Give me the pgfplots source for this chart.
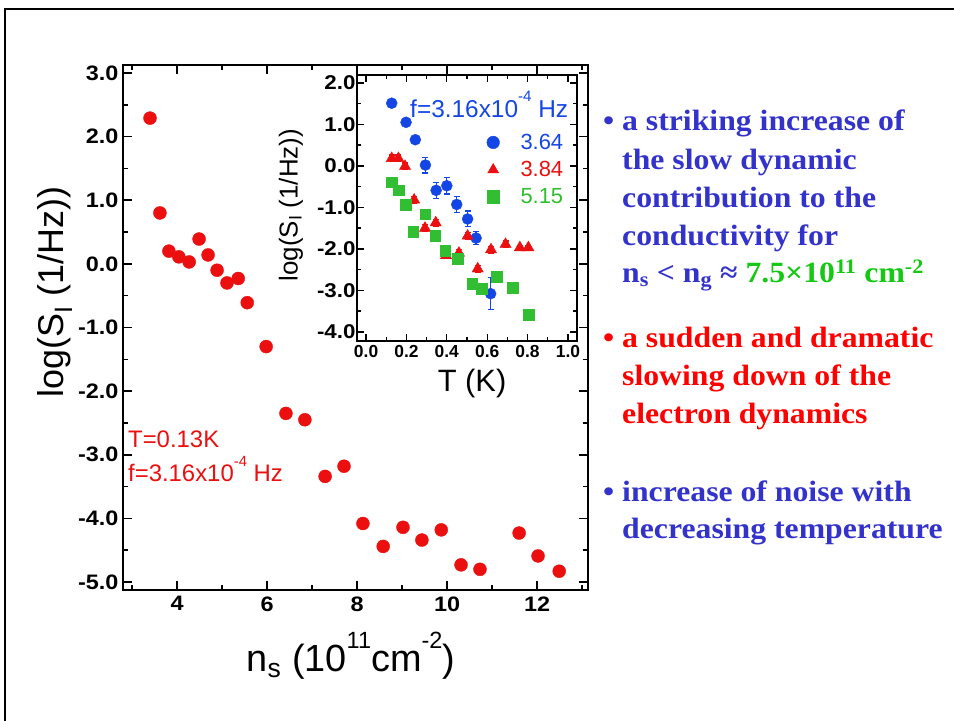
\documentclass[border=0pt]{standalone}
\usepackage{fontspec}
\setmainfont{Liberation Sans}
\newfontfamily\serifb[FakeStretch=1.08]{Liberation Serif}
\newfontfamily\tickf[FakeStretch=1.12]{Liberation Sans}
\usepackage{pgfplots}
\pgfplotsset{compat=1.18}
\definecolor{mred}{RGB}{235,15,15}
\definecolor{mblue}{RGB}{20,70,230}
\definecolor{mgreen}{RGB}{50,190,50}
\definecolor{tblue}{RGB}{51,51,204}
\definecolor{tred}{RGB}{255,0,0}
\definecolor{tgreen}{RGB}{20,200,20}
\newcommand{\fs}[1]{\fontsize{#1}{#1}\selectfont}
\newcommand{\sups}[1]{\raisebox{0.62em}{\fontsize{0.62em}{0.62em}\selectfont #1}}
\begin{document}
\begin{tikzpicture}[x=1bp,y=1bp]
\path[use as bounding box] (0,0) rectangle (954,721);
\draw[line width=2bp] (5,0) -- (5,712) -- (954,712);
% main axis
\begin{axis}[
  at={(123bp,131bp)}, anchor=south west,
  width=465bp, height=525bp, scale only axis,
  xmin=2.8, xmax=13.13, ymin=-5.125, ymax=3.125,
  xtick={4,6,8,10,12}, xticklabels={4,6,8,10,12},
  minor xtick={3,5,7,9,11,13},
  ytick={-5,-4,-3,-2,-1,0,1,2,3},
  yticklabels={-5.0,-4.0,-3.0,-2.0,-1.0,0.0,1.0,2.0,3.0},
  minor ytick={-4.5,-3.5,-2.5,-1.5,-0.5,0.5,1.5,2.5},
  tick align=inside, xtick pos=both, ytick pos=both,
  major tick length=9bp, minor tick length=5bp,
  axis line style={line width=1.8bp},
  every tick/.style={line width=1.5bp, black},
  xticklabel style={yshift=-3bp, font=\tickf\bfseries\fs{21}},
  yticklabel style={xshift=-1bp, font=\tickf\bfseries\fs{21}},
  xlabel={n\textsubscript{s} (10\sups{11}cm\sups{-2})},
  xlabel style={at={(rel axis cs:0.49,-0.156)}, anchor=base, font=\fs{38}},
  ylabel={log(S\textsubscript{I} (1/Hz))},
  ylabel style={at={(rel axis cs:-0.147,0.568)}, anchor=center, font=\fs{36}},
]
\addplot[only marks, mark=*, mark size=6.5bp, color=mred] coordinates {
(3.40,2.29) (3.62,0.80) (3.82,0.20) (4.04,0.11) (4.27,0.03) (4.49,0.39)
(4.69,0.14) (4.89,-0.10) (5.11,-0.30) (5.36,-0.23) (5.56,-0.61) (5.98,-1.30)
(6.42,-2.35) (6.84,-2.45) (7.29,-3.34) (7.71,-3.18) (8.13,-4.08) (8.58,-4.44)
(9.02,-4.14) (9.44,-4.34) (9.87,-4.18) (10.31,-4.73) (10.73,-4.80) (11.60,-4.23)
(12.02,-4.59) (12.49,-4.83)
};
\node[anchor=base west, text=mred, font=\fs{24}, inner sep=0pt] at (axis cs:2.91,-2.88) {T=0.13K};
\node[anchor=base west, text=mred, font=\fs{24}, inner sep=0pt] at (axis cs:2.91,-3.42) {f=3.16x10\sups{-4} Hz};
\end{axis}
% inset
\begin{axis}[
  at={(357bp,380bp)}, anchor=south west,
  width=220bp, height=266bp, scale only axis,
  axis background/.style={fill=white},
  xmin=-0.045, xmax=1.045, ymin=-4.22, ymax=2.19,
  xtick={0,0.2,0.4,0.6,0.8,1.0}, xticklabels={0.0,0.2,0.4,0.6,0.8,1.0},
  minor xtick={0.1,0.3,0.5,0.7,0.9},
  ytick={-4,-3,-2,-1,0,1,2},
  yticklabels={-4.0,-3.0,-2.0,-1.0,0.0,1.0,2.0},
  minor ytick={-3.5,-2.5,-1.5,-0.5,0.5,1.5},
  tick align=inside, xtick pos=both, ytick pos=both,
  major tick length=7bp, minor tick length=4bp,
  axis line style={line width=1.5bp},
  every tick/.style={line width=1.3bp, black},
  xticklabel style={yshift=-1bp, font=\bfseries\fs{17.5}},
  yticklabel style={xshift=2bp, font=\tickf\bfseries\fs{20}},
  xlabel={T (K)},
  xlabel style={at={(rel axis cs:0.523,-0.188)}, anchor=base, font=\fs{31}},
  ylabel={log(S\textsubscript{I} (1/Hz))},
  ylabel style={at={(rel axis cs:-0.30,0.511)}, anchor=center, font=\fs{26}},
  legend image code/.code={\draw[#1, mark size=6.3bp] plot coordinates {(8bp,0bp)};},
  legend style={draw=none, fill=none, at={(rel axis cs:0.585,0.79)}, anchor=north west,
    font=\fs{22}, row sep=6.5bp, inner sep=1bp,
    /tikz/every odd column/.append style={column sep=19bp}},
  legend cell align=left,
]
\addplot[only marks, mark=*, mark size=5.5bp, color=mblue,
  error bars/.cd, y dir=both, y explicit,
  error bar style={line width=1.2bp, mblue},
  error mark options={rotate=90, mark size=3bp, line width=1.2bp, mblue}]
coordinates {
(0.127,1.51) +- (0,0.03)
(0.198,1.05) +- (0,0.03)
(0.244,0.63) +- (0,0.03)
(0.294,0.02) +- (0,0.19)
(0.347,-0.59) +- (0,0.19)
(0.400,-0.48) +- (0,0.20)
(0.449,-0.93) +- (0,0.20)
(0.503,-1.28) +- (0,0.19)
(0.545,-1.74) +- (0,0.15)
(0.617,-3.08) +- (0,0.39)
};
\addlegendentry{\textcolor{mblue}{3.64}}
\addplot[only marks, mark=triangle*, mark size=6.5bp, color=mred,
  error bars/.cd, y dir=both, y explicit,
  error bar style={line width=1.2bp, mred},
  error mark options={rotate=90, mark size=3bp, line width=1.2bp, mred}]
coordinates {
(0.127,0.18) +- (0,0.08)
(0.160,0.18) +- (0,0.08)
(0.193,-0.01) +- (0,0.08)
(0.238,-0.82) +- (0,0.08)
(0.292,-1.50) +- (0,0.08)
(0.345,-1.37) +- (0,0.08)
(0.396,-2.16) +- (0,0.08)
(0.460,-2.10) +- (0,0.08)
(0.503,-1.69) +- (0,0.08)
(0.553,-2.48) +- (0,0.08)
(0.619,-2.02) +- (0,0.08)
(0.691,-1.89) +- (0,0.08)
(0.762,-1.97) +- (0,0.06)
(0.804,-1.97) +- (0,0.06)
};
\addlegendentry{\textcolor{mred}{3.84}}
\addplot[only marks, mark=square*, mark size=5.3bp, color=mgreen] coordinates {
(0.127,-0.39) (0.163,-0.59) (0.196,-0.93) (0.234,-1.58) (0.292,-1.16)
(0.342,-1.68) (0.391,-2.04) (0.454,-2.24) (0.525,-2.84) (0.573,-2.96)
(0.647,-2.67) (0.726,-2.93) (0.807,-3.59)
};
\addlegendentry{\textcolor{mgreen}{5.15}}
\node[anchor=base west, text=mblue, font=\fs{24.5}, inner sep=0pt] at (rel axis cs:0.241,0.842) {f=3.16x10\sups{-4} Hz};
\end{axis}
% right-hand text
\begin{scope}[every node/.style={anchor=base west, inner sep=0pt, font=\serifb\bfseries\fs{29.5}}]
\node[text=tblue] at (603,590) {•};
\node[text=tblue] at (622,590) {a striking increase of};
\node[text=tblue] at (622,551) {the slow dynamic};
\node[text=tblue] at (622,513) {contribution to the};
\node[text=tblue] at (622,475) {conductivity for};
\node at (622,438) {\textcolor{tblue}{n\textsubscript{s} < n\textsubscript{g} ≈ }\textcolor{tgreen}{7.5×10\textsuperscript{11} cm\textsuperscript{-2}}};
\node[text=tred] at (603,373) {•};
\node[text=tred] at (622,373) {a sudden and dramatic};
\node[text=tred] at (622,335) {slowing down of the};
\node[text=tred] at (622,297) {electron dynamics};
\node[text=tblue] at (603,219) {•};
\node[text=tblue] at (622,219) {increase of noise with};
\node[text=tblue] at (622,182) {decreasing temperature};
\end{scope}
\end{tikzpicture}
\end{document}
